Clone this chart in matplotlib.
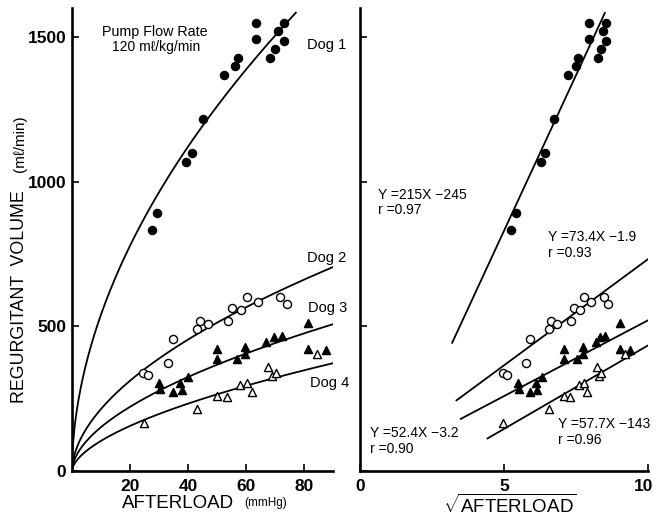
import matplotlib

matplotlib.use("Agg")
import matplotlib.pyplot as plt
import matplotlib.transforms as mtransforms
import numpy as np

plt.rcParams["font.family"] = ["Liberation Sans", "DejaVu Sans"]
plt.rcParams["mathtext.fontset"] = "custom"
plt.rcParams["mathtext.rm"] = "Liberation Sans"

# afterload (mmHg) and regurgitant volume (ml/min), pump flow 120 ml/kg/min
dog1_afterload = [27.6, 29.3, 39.3, 41.4, 45.2, 52.4, 56.2, 57.2, 63.4, 63.4,
                  68.3, 70.0, 71.0, 73.1, 73.1]
dog1_volume = [834, 893, 1069, 1100, 1217, 1369, 1400, 1428, 1548, 1493,
               1428, 1459, 1521, 1548, 1486]

dog2_afterload = [24.5, 26.2, 33.1, 34.8, 43.1, 44.1, 46.9, 53.8, 55.2, 58.3,
                  60.3, 64.1, 71.7, 74.1]
dog2_volume = [338, 331, 372, 455, 490, 517, 507, 517, 562, 555,
               603, 583, 603, 576]

dog3_afterload = [30.0, 30.3, 34.8, 37.2, 37.9, 40.0, 50.0, 50.0, 56.9, 59.7,
                  59.7, 66.9, 69.7, 72.4, 81.4, 81.4, 87.6]
dog3_volume = [303, 283, 272, 303, 279, 324, 421, 386, 386, 428,
               403, 445, 462, 466, 510, 421, 417]

dog4_afterload = [24.8, 43.1, 50.0, 53.4, 57.9, 60.3, 62.1, 67.6, 69.0, 70.3, 84.5]
dog4_volume = [166, 214, 259, 255, 297, 303, 272, 359, 328, 338, 403]

dogs = ["Dog 1", "Dog 2", "Dog 3", "Dog 4"]

# power curves volume = a * afterload ** b drawn on the linear panel
curve_a = [161, 61.5, 42.7, 27.4]
curve_b = [0.526, 0.542, 0.55, 0.58]
curve_xmax = [77.2, 90, 90, 90]

# regressions against sqrt(afterload)
slopes = [215, 73.4, 52.4, 57.7]
intercepts = [-245, -1.9, -3.2, -143]
r_values = [0.97, 0.93, 0.90, 0.96]
fit_range = [(3.2, 8.5), (3.35, 10.0), (3.5, 10.0), (4.43, 10.0)]

afterloads = [dog1_afterload, dog2_afterload, dog3_afterload, dog4_afterload]
volumes = [dog1_volume, dog2_volume, dog3_volume, dog4_volume]
markers = [("o", "black"), ("o", "white"), ("^", "black"), ("^", "white")]

W, H = 656, 516
fig = plt.figure(figsize=(W / 100, H / 100), dpi=100)
ax1 = fig.add_axes([72 / W, 45 / H, 261 / W, 463 / H])
ax2 = fig.add_axes([360 / W, 45 / H, 288 / W, 463 / H])

for ax in (ax1, ax2):
    for side in ("top", "right"):
        ax.spines[side].set_visible(False)
    for side in ("left", "bottom"):
        ax.spines[side].set_linewidth(1.9)
    ax.set_ylim(0, 1600)
    ax.set_yticks([0, 500, 1000, 1500])
    ax.tick_params(direction="in", length=5, width=1.2, labelsize=12.5, pad=4)

kw = dict(s=34, edgecolors="black", linewidths=1.0, zorder=3, clip_on=False)

# left panel: raw afterload
ax1.set_xlim(0, 90)
ax1.set_xticks([20, 40, 60, 80])
ax1.tick_params(axis="x", pad=6)
for i in range(4):
    x = np.linspace(0, curve_xmax[i], 400)
    ax1.plot(x, curve_a[i] * x ** curve_b[i], color="black", lw=1.3)
    m, fc = markers[i]
    ax1.scatter(afterloads[i], volumes[i], marker=m, facecolors=fc, **kw)

ax1.text(28.6, 1517, "Pump Flow Rate", ha="center", va="center", fontsize=10.3)
ax1.text(29.0, 1465, "120 mℓ/kg/min", ha="center", va="center", fontsize=10)
for name, (x, y) in zip(dogs, [(81, 1472), (81, 736), (81.4, 563), (82, 304)]):
    ax1.text(x, y, name, ha="left", va="center", fontsize=10.5)

# right panel: sqrt(afterload) with straight regressions
ax2.set_xlim(0, 10)
ax2.set_xticks([0, 5, 10])
ax2.tick_params(axis="x", pad=6)
ax2.set_yticklabels([])
for i in range(4):
    lo, hi = fit_range[i]
    x = np.array([lo, hi])
    ax2.plot(x, slopes[i] * x + intercepts[i], color="black", lw=1.3)
    m, fc = markers[i]
    ax2.scatter(np.sqrt(afterloads[i]), volumes[i], marker=m, facecolors=fc, **kw)

eq_pos = [(0.62, 955), (6.52, 809), (0.35, 131), (6.86, 162)]
for i, (x, y) in enumerate(eq_pos):
    ax2.text(x, y, f"Y ={slopes[i]:g}X −{abs(intercepts[i]):g}",
             ha="left", va="center", fontsize=10)
    ax2.text(x, y - 54, f"r ={r_values[i]:.2f}", ha="left", va="center", fontsize=10)

for ax in (ax1, ax2):
    for lab in ax.get_xticklabels() + ax.get_yticklabels():
        lab.set_fontweight("bold")

# keep the last tick label inside the canvas
last = ax2.get_xticklabels()[-1]
last.set_transform(last.get_transform()
                   + mtransforms.ScaledTranslation(-4 / 100, 0, fig.dpi_scale_trans))

# axis titles
fig.text(178 / W, 1 - 503 / H, "AFTERLOAD", ha="center", va="center", fontsize=13.5)
fig.text(266 / W, 1 - 503 / H, "(mmHg)", ha="center", va="center", fontsize=8.5)
fig.text(510 / W, 1 - 505 / H, r"$\sqrt{\mathrm{AFTERLOAD}}$", ha="center",
         va="center", fontsize=13.5)
fig.text(20 / W, 1 - 297 / H, "REGURGITANT  VOLUME", rotation=90, ha="center",
         va="center", fontsize=12.8)
fig.text(20 / W, 1 - 144 / H, "(mℓ/min)", rotation=90, ha="center", va="center",
         fontsize=11)

fig.savefig("out.png", dpi=100)
